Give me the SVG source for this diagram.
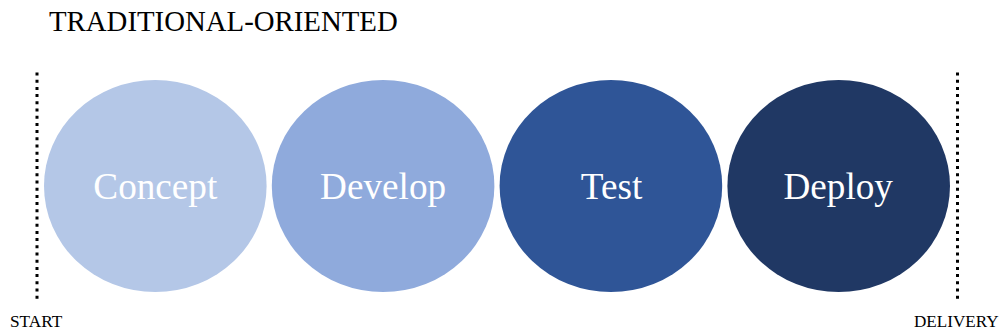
<svg xmlns="http://www.w3.org/2000/svg" width="1002" height="334" viewBox="0 0 1002 334">
<style>
.lbl{font-family:"Liberation Serif","Times New Roman",serif;fill:#000}
.node text{font-family:"Liberation Serif","Times New Roman",serif;font-size:37.2px;fill:#fff;text-anchor:middle}
.dot{stroke:#000;stroke-width:3;stroke-dasharray:3 4.2;fill:none}
</style>
<rect width="1002" height="334" fill="#fff"/>
<text class="lbl" x="49" y="30.7" font-size="28.8">TRADITIONAL-ORIENTED</text>
<g id="connectors">
<line class="dot" x1="37" y1="72.5" x2="37" y2="301"/>
<line class="dot" x1="957.5" y1="72.5" x2="957.5" y2="301"/>
</g>
<g id="concept" class="node">
<ellipse cx="155.3" cy="186" rx="111.3" ry="106" fill="#B4C7E7"/>
<text x="155.3" y="198.8">Concept</text>
</g>
<g id="develop" class="node">
<ellipse cx="383.1" cy="186" rx="111.3" ry="106" fill="#8FAADC"/>
<text x="383.1" y="198.8">Develop</text>
</g>
<g id="test" class="node">
<ellipse cx="610.9" cy="186" rx="111.3" ry="106" fill="#2F5597"/>
<text x="611.5" y="198.8">Test</text>
</g>
<g id="deploy" class="node">
<ellipse cx="838.7" cy="186" rx="111.3" ry="106" fill="#203864"/>
<text x="838.2" y="198.8">Deploy</text>
</g>
<text class="lbl" x="10" y="327.3" font-size="17.3">START</text>
<text class="lbl" x="914" y="327.3" font-size="17.1">DELIVERY</text>
</svg>
